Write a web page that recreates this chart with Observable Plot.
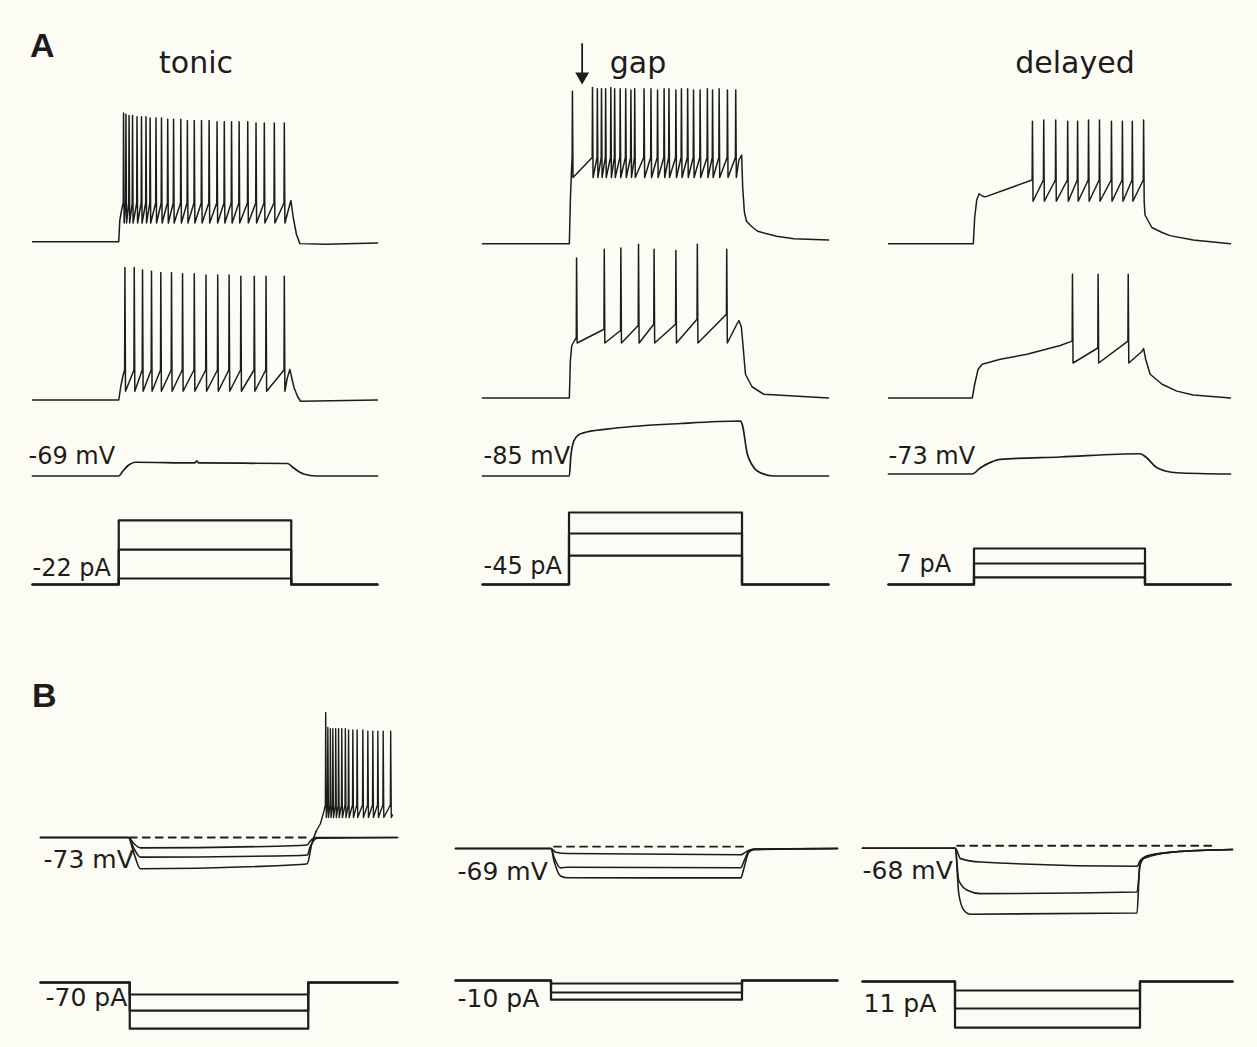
<!DOCTYPE html>
<html><head><meta charset="utf-8">
<script src="https://cdn.jsdelivr.net/npm/d3@7"></script>
<script src="https://cdn.jsdelivr.net/npm/@observablehq/plot@0.6"></script>
<style>
html,body{margin:0;padding:0;background:#fcfcf5;}
#fig{position:relative;width:1257px;height:1047px;background:#fcfcf5;overflow:hidden;font-family:"DejaVu Sans",sans-serif;}
</style></head>
<body><div id="fig"></div>
<script>
// ---------------- data (time in ms, voltage in mV, current in pA) ----------------
const panelTitlesA = ["tonic", "gap", "delayed"];
const restLabelsA = ["-69 mV", "-85 mV", "-73 mV"];
const currentLabelsA = ["-22 pA", "-45 pA", "7 pA"];
const restLabelsB = ["-73 mV", "-69 mV", "-68 mV"];
const currentLabelsB = ["-70 pA", "-10 pA", "11 pA"];
const restA = [-69, -85, -73];
const restB = [-73, -69, -68];
const stepTimes = [250, 750];

// A – tonic
const tonicR1Pre = [[0,-69],[250,-69],[253,-52],[258,-44]];
const tonicR1Spikes = [263,270,279,289,302,315,328,340,357,373,391,408,429,448,468,489,511,534,555,576,598,623,647,671,700,729];
const tonicR1Peaks = [34,33,32,32,31,31,31,30,30,30,29,29,29,28,28,28,28,27,27,27,27,27,26,26,26,26];
const tonicR1Post = [[745,-40],[749,-36],[756,-50],[765,-63],[775,-70.5],[850,-71],[1000,-70]];
const tonicR2Pre = [[0,-69],[250,-69],[256,-58],[262,-50]];
const tonicR2Spikes = [267,294,318,344,371,402,434,468,502,536,569,603,642,676,729];
const tonicR2Peaks = [37,37,35,34,33,33,32,32,31,31,31,30,30,30,30];
const tonicR2Post = [[738,-52],[746,-44.5],[752,-52],[758,-59],[768,-66],[777,-70],[1000,-69]];
const tonicR3 = [[0,-69],[250,-69],[262,-65],[280,-60],[299,-58],[470,-58.5],[476,-57],[482,-58.5],[739,-59],[757,-62.6],[786,-67.4],[823,-69],[1000,-69]];
const tonicSteps = [10, 58, 107];

// A – gap
const gapR1Pre = [[0,-85],[251,-85],[254,-50],[257,-28]];
const gapR1Spikes = [259,317,331,343,355,370,381,397,413,428,439,466,486,505,524,538,558,574,592,609,628,649,664,683,707,731];
const gapR1Peaks = [37,40,39,39,39,40,39,39,39,38,39,39,39,38,39,39,38,39,39,38,38,39,38,39,38,38];
const gapR1Post = [[741,-18],[749,-14],[752,-40],[757,-60],[763,-67],[777,-71],[795,-75],[850,-79],[900,-81],[1000,-82]];
const gapR2Pre = [[0,-85],[251,-85],[254,-55],[258,-43],[266,-39]];
const gapR2Spikes = [271,351,399,450,495,558,620,705];
const gapR2Peaks = [27,34,35,38,34,33,38,34];
const gapR2Thresholds = [-37,-30,-31,-27,-26,-26,-22,-18];
const gapR2Post = [[735,-26],[741,-23],[748,-28],[752,-40],[760,-66],[779,-76],[813,-82],[1000,-85]];
const gapR3 = [[0,-85],[251,-85],[255,-70],[264,-57],[278,-52],[292,-50.5],[360,-47.5],[572,-43],[746,-41],[751,-44],[765,-67],[779,-76],[794,-81],[842,-85],[1000,-85]];
const gapSteps = [48, 85, 120];
const gapArrow = [{t: 288, from: 75, to: 44}];

// A – delayed
const delR1Pre = [[0,-73],[248,-73],[252,-52],[258,-38],[265,-33],[275,-35],[283,-35.5]];
const delR1Spikes = [420,453,488,523,552,584,616,651,683,712,745];
const delR1Peaks = [25,26,26,25,25,26,26,25,25,25,26];
const delR1Post = [[750,-50],[770,-60],[800,-64],[823,-66.5],[891,-70],[1000,-73]];
const delR2Pre = [[0,-73],[245,-73],[252,-62],[262,-50],[274,-46],[327,-42],[405,-38],[502,-31]];
const delR2Spikes = [537,612,700];
const delR2Peaks = [26,26,26];
const delR2Thresholds = [-27.5,-33,-27.5];
const delR2Post = [[740,-36],[746,-33.5],[752,-42],[765,-54],[800,-62],[843,-67.5],[891,-70.6],[1000,-73]];
const delR3 = [[0,-73],[244,-73],[269,-68],[300,-63.5],[327,-61.3],[502,-59.4],[736,-56.8],[755,-60],[785,-68],[843,-72],[1000,-73]];
const delSteps = [12, 35, 60];

// B – tonic (rebound)
const bTonicTop = [[0,-73],[246,-73],[262,-78],[280,-81.3],[728,-79.4],[747,-79],[755,-76],[770,-73],[1000,-73]];
const bTonicMid = [[0,-73],[246,-73],[262,-82],[280,-88.7],[728,-87.4],[747,-87],[756,-80],[775,-73.5],[1000,-73]];
const bTonicLowPre = [[0,-73],[246,-73],[262,-86],[280,-98],[728,-94.6],[747,-94],[760,-78],[772,-68],[784,-62],[794,-52]];
const bTonicLowSpikes = [798,804,811,818,826,834,843,853,862,874,886,902,916,930,944,959,980];
const bTonicLowPeaks = [27,15,14,14,14,14,14,14,13,13,13,13,12,12,12,12,12];
const bTonicLowPost = [[986,-55]];
const bTonicDash = [[250,-73],[750,-73]];
const bTonicSteps = [-20, -47, -77];

// B – gap
const bGapTop = [[0,-69],[250,-69],[262,-72],[293,-73],[747,-74],[754,-73],[773,-70],[1000,-69]];
const bGapMid = [[0,-69],[250,-69],[258,-76],[275,-84.5],[293,-84],[747,-84.4],[754,-80],[766,-72],[780,-69.5],[1000,-69]];
const bGapLow = [[0,-69],[250,-69],[258,-79],[275,-91],[293,-92.4],[747,-92.5],[754,-86],[768,-72],[785,-69.5],[1000,-69]];
const bGapDash = [[258,-67.5],[760,-67.5]];
const bGapSteps = [-5, -20, -32];

// B – delayed
const bDelTop = [[0,-68],[251,-68],[265,-76.3],[319,-79],[742,-82.4],[751,-77.6],[769,-74.4],[841,-71],[1000,-69]];
const bDelMid = [[0,-68],[251,-68],[260,-93.6],[283,-101.6],[319,-104.3],[742,-103],[751,-80],[769,-74],[841,-71],[1000,-69]];
const bDelLow = [[0,-68],[251,-68],[260,-104],[274,-117.6],[292,-120.8],[742,-119.8],[749,-83],[760,-76.3],[841,-71],[1000,-69]];
const bDelDash = [[256,-66],[958,-66]];
const bDelSteps = [-15, -45, -77];

// ---------------- helpers ----------------
const INK = "#1c1c1c";
const K_MV = 1.25, K_PA = 0.6;
const fig = document.getElementById("fig");

const pts = arr => arr.map(([t, v]) => ({t, v}));
function spikeTrace(pre, spikes, peaks, th, tr, post) {
  const out = pts(pre);
  spikes.forEach((t, i) => {
    const a = Array.isArray(th) ? th[i] : th;
    const b = Array.isArray(tr) ? tr[i] : tr;
    out.push({t, v: a}, {t: t + 0.9, v: peaks[i]}, {t: t + 2.6, v: b});
  });
  return out.concat(pts(post));
}
function stepTrace(level) {
  const [on, off] = stepTimes;
  return pts([[0,0],[on,0],[on,level],[off,level],[off,0],[1000,0]]).map(d => ({...d, level}));
}
const vLine = (data, curve = "linear", w = 1.6) => Plot.line(data, {x: "t", y: "v", stroke: INK, strokeWidth: w, curve, strokeLinejoin: "round"});
const dashLine = data => Plot.line(pts(data), {x: "t", y: "v", stroke: INK, strokeWidth: 1.8, strokeDasharray: "7,6"});
const iLines = levels => Plot.line(levels.flatMap(stepTrace), {x: "t", y: "v", z: "level", stroke: INK, strokeWidth: 2.2});
const label = (txt, y, dx, dy, size) => Plot.text([txt], {x: 0, y, text: d => d, dx, dy, textAnchor: "start", lineAnchor: "bottom", fontSize: size, fill: INK});

function panel({x0, x1, basePx, ref, k, domain, marks}) {
  const m = 24;
  const [lo, hi] = domain;
  const h = (hi - lo) * k;
  const top = basePx - (hi - ref) * k;
  const svg = Plot.plot({
    width: x1 - x0 + 2 * m, height: h + 2 * m, margin: m,
    x: {domain: [0, 1000], axis: null},
    y: {domain, axis: null},
    style: {background: "transparent", overflow: "visible", fontFamily: "DejaVu Sans", color: INK},
    marks
  });
  svg.style.position = "absolute";
  svg.style.left = (x0 - m) + "px";
  svg.style.top = (top - m) + "px";
  fig.appendChild(svg);
}

// ---------------- panel A ----------------
const colA = [[32,377],[482,828],[888,1230]];
const row1Base = [241,243,243], row2Base = [399,397,397], row3Base = [475,475,473], curBaseA = 584;

const row1 = [
  spikeTrace(tonicR1Pre, tonicR1Spikes, tonicR1Peaks, -38, -54, tonicR1Post),
  spikeTrace(gapR1Pre, gapR1Spikes, gapR1Peaks, -16, -32, gapR1Post),
  spikeTrace(delR1Pre, delR1Spikes, delR1Peaks, -22, -39, delR1Post)
];
const row2 = [
  spikeTrace(tonicR2Pre, tonicR2Spikes, tonicR2Peaks, -45, -62, tonicR2Post),
  spikeTrace(gapR2Pre, gapR2Spikes, gapR2Peaks, gapR2Thresholds, -41, gapR2Post),
  spikeTrace(delR2Pre, delR2Spikes, delR2Peaks, delR2Thresholds, -45, delR2Post)
];
const row3 = [tonicR3, gapR3, delR3];
const stepsA = [tonicSteps, gapSteps, delSteps];
const row3Label = [[-4,-12],[1,-12],[0,-10]];
const curLabelA = [[0,-9],[1,-11],[8,-13]];

colA.forEach(([x0, x1], c) => {
  const extra = c === 1 ? [
    Plot.ruleX(gapArrow, {x: "t", y1: "from", y2: "to", stroke: INK, strokeWidth: 1.8}),
    Plot.dot(gapArrow, {x: "t", y: "to", dy: -6, symbol: "triangle", rotate: 180, r: 4.2, fill: INK, stroke: INK})
  ] : [];
  panel({x0, x1, basePx: row1Base[c], ref: restA[c], k: K_MV, domain: [-90, 80], marks: [vLine(row1[c], "linear", 1.5), ...extra]});
  panel({x0, x1, basePx: row2Base[c], ref: restA[c], k: K_MV, domain: [-90, 45], marks: [vLine(row2[c], "linear", 1.5)]});
  panel({x0, x1, basePx: row3Base[c], ref: restA[c], k: K_MV, domain: [-90, -35], marks: [
    vLine(pts(row3[c]), "monotone-x", 1.7),
    label(restLabelsA[c], restA[c], row3Label[c][0], row3Label[c][1], 24)
  ]});
  panel({x0, x1, basePx: curBaseA, ref: 0, k: K_PA, domain: [-10, 130], marks: [
    iLines(stepsA[c]),
    label(currentLabelsA[c], 0, curLabelA[c][0], curLabelA[c][1], 24)
  ]});
});

// ---------------- panel B ----------------
const colB = [[40,397],[455,837],[862,1232]];
const vBaseB = [837,848,848], curBaseB = [982,980,981];
const tracesB = [
  [pts(bTonicTop), pts(bTonicMid), pts(bTonicLowPre.slice(0, 8))],
  [pts(bGapTop), pts(bGapMid), pts(bGapLow)],
  [pts(bDelTop), pts(bDelMid), pts(bDelLow)]
];
const dashesB = [bTonicDash, bGapDash, bDelDash];
const stepsB = [bTonicSteps, bGapSteps, bDelSteps];
const vLabB = [[3,30],[2,31],[0,31]];
const iLabB = [[5,23],[2,26],[1,30]];

colB.forEach(([x0, x1], c) => {
  const marks = tracesB[c].map(d => vLine(d, "monotone-x", 1.6));
  if (c === 0) marks.push(vLine(spikeTrace(bTonicLowPre.slice(7), bTonicLowSpikes, bTonicLowPeaks, -47, -57, bTonicLowPost), "linear", 1.4));
  marks.push(dashLine(dashesB[c]));
  marks.push(label(restLabelsB[c], restB[c], vLabB[c][0], vLabB[c][1], 25));
  panel({x0, x1, basePx: vBaseB[c], ref: restB[c], k: K_MV, domain: [-125, 35], marks});
  panel({x0, x1, basePx: curBaseB[c], ref: 0, k: K_PA, domain: [-90, 10], marks: [
    iLines(stepsB[c]),
    label(currentLabelsB[c], 0, iLabB[c][0], iLabB[c][1], 25)
  ]});
});

// ---------------- titles ----------------
const ov = d3.select(fig).append("svg")
  .attr("width", 1257).attr("height", 1047)
  .style("position", "absolute").style("left", "0px").style("top", "0px")
  .style("font-family", "DejaVu Sans").attr("fill", INK);
ov.append("text").attr("x", 30).attr("y", 57).attr("font-size", 34).attr("font-weight", "bold").attr("font-family", "Liberation Sans").text("A");
ov.append("text").attr("x", 32).attr("y", 707).attr("font-size", 34).attr("font-weight", "bold").attr("font-family", "Liberation Sans").text("B");
const titleX = [196, 638, 1075];
panelTitlesA.forEach((t, i) => ov.append("text").attr("x", titleX[i]).attr("y", 73).attr("font-size", 30).attr("text-anchor", "middle").text(t));
</script>
</body></html>
